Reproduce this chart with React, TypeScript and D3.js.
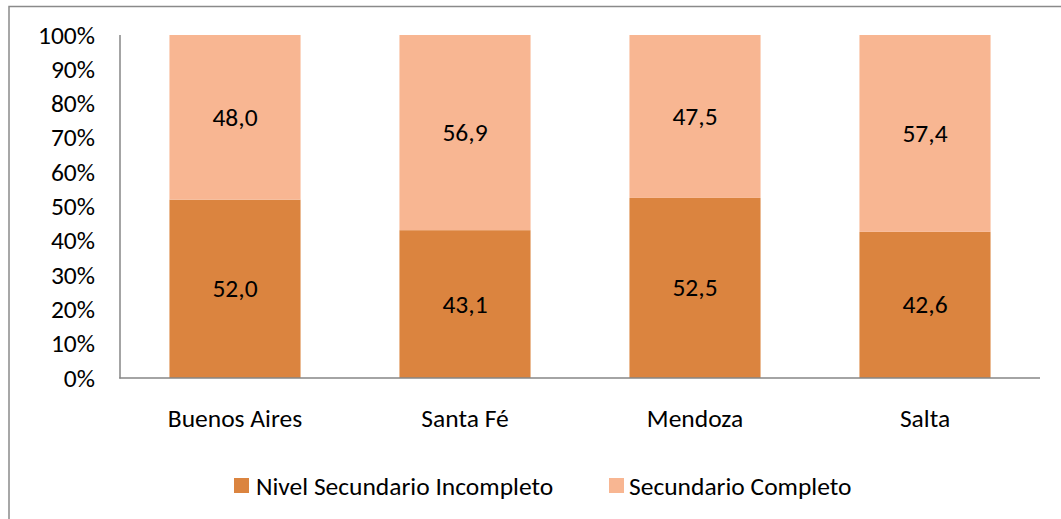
import React from "react";
import * as d3 from "d3";

const categories = ["Buenos Aires", "Santa Fé", "Mendoza", "Salta"];
const incompleto = [52.0, 43.1, 52.5, 42.6];
const completo = [48.0, 56.9, 47.5, 57.4];
const yTicks = [0, 10, 20, 30, 40, 50, 60, 70, 80, 90, 100];
const seriesNames = ["Nivel Secundario Incompleto", "Secundario Completo"];
const colors = ["#DB843F", "#F8B692"];

const W = 1061, H = 519;
const FONT = "Carlito, 'Open Sans', sans-serif";
const FS = 25.5;

export default function App() {
  const x = d3.scaleBand().domain(categories).range([120, 1040]).paddingInner(0.43).paddingOuter(0.215);
  const y = d3.scaleLinear().domain([0, 100]).range([378, 35]);
  const fmt = (v: number) => v.toFixed(1).replace(".", ",");

  return (
    <svg width={W} height={H} style={{ position: "absolute", left: 0, top: 0 }} fontFamily={FONT}>
      <rect x={0} y={0} width={W} height={H} fill="#fff" />
      <rect x={9} y={6.5} width={W + 20} height={H + 20} fill="none" stroke="#8a8a8a" strokeWidth={1.5} />
      {categories.map((c, i) => {
        const x0 = x(c)!;
        const bw = x.bandwidth();
        const v1 = incompleto[i];
        const v2 = completo[i];
        return (
          <g key={c}>
            <rect x={x0} y={y(v1)} width={bw} height={y(0) - y(v1)} fill={colors[0]} />
            <rect x={x0} y={y(v1 + v2)} width={bw} height={y(v1) - y(v1 + v2)} fill={colors[1]} />
            <text x={x0 + bw / 2} y={(y(0) + y(v1)) / 2} textAnchor="middle" dominantBaseline="central" fontSize={FS} fill="#000">{fmt(v1)}</text>
            <text x={x0 + bw / 2} y={(y(v1) + y(v1 + v2)) / 2} textAnchor="middle" dominantBaseline="central" fontSize={FS} fill="#000">{fmt(v2)}</text>
            <text x={x0 + bw / 2} y={418} textAnchor="middle" dominantBaseline="central" fontSize={FS} fill="#000">{c}</text>
          </g>
        );
      })}
      <line x1={120} x2={120} y1={35} y2={378.5} stroke="#868686" strokeWidth={1.5} />
      <line x1={119.25} x2={1040} y1={378} y2={378} stroke="#868686" strokeWidth={1.5} />
      {yTicks.map((t) => (
        <text key={t} x={95} y={y(t)} textAnchor="end" dominantBaseline="central" fontSize={FS} fill="#000">{t}%</text>
      ))}
      <g>
        <rect x={234} y={478} width={15} height={15} fill={colors[0]} />
        <text x={256} y={486} dominantBaseline="central" fontSize={FS} fill="#000">{seriesNames[0]}</text>
        <rect x={609} y={478} width={15} height={15} fill={colors[1]} />
        <text x={629} y={486} dominantBaseline="central" fontSize={FS} fill="#000">{seriesNames[1]}</text>
      </g>
    </svg>
  );
}
